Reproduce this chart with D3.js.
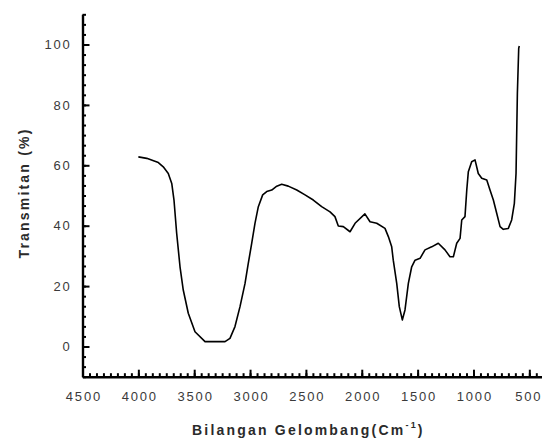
<!DOCTYPE html>
<meta charset="utf-8">
<style>
body { margin: 0; background: #fff; }
.tick text { font: 13px "Liberation Sans", Arial, sans-serif; fill: #3a3a3a; letter-spacing: 1.8px; }
.title { font: bold 14px "Liberation Sans", Arial, sans-serif; fill: #2a2a2a; letter-spacing: 2.2px; }
</style>
<svg width="543" height="441"></svg>
<script src="https://cdn.jsdelivr.net/npm/d3@7/dist/d3.min.js"></script>
<script>
// FTIR spectrum
var wave = [4000, 3925, 3821, 3777, 3732, 3701, 3681, 3657, 3627, 3598, 3553, 3493, 3403, 3224, 3180, 3135,
  3090, 3045, 3016, 2985, 2956, 2926, 2887, 2851, 2806, 2761, 2717, 2658, 2582, 2508, 2434, 2359, 2284,
  2240, 2210, 2165, 2105, 2060, 1972, 1926, 1866, 1792, 1762, 1732, 1718, 1687, 1664, 1637, 1613, 1583,
  1553, 1523, 1478, 1434, 1374, 1315, 1255, 1210, 1180, 1150, 1120, 1105, 1076, 1060, 1046, 1016, 986,
  957, 926, 881, 852, 822, 792, 762, 733, 688, 658, 634, 619, 607, 595, 590];
var trans = [62.8, 62.3, 60.9, 59.5, 57.3, 54.0, 48.5, 37.5, 26.4, 18.7, 11.0, 4.9, 1.6, 1.6, 2.7, 6.6,
  13.2, 20.9, 27.5, 34.2, 40.8, 46.3, 50.2, 51.3, 51.8, 53.1, 53.7, 53.1, 51.8, 50.2, 48.5, 46.3, 44.6,
  43.0, 39.9, 39.7, 38.0, 40.8, 43.9, 41.3, 40.8, 39.1, 36.4, 33.0, 28.6, 20.9, 13.2, 8.8, 12.1, 20.9,
  26.4, 28.6, 29.2, 32.0, 33.0, 34.2, 32.0, 29.7, 29.7, 34.2, 35.8, 41.9, 43.0, 51.8, 57.9, 61.2, 61.8,
  57.3, 55.7, 55.1, 51.8, 48.5, 44.1, 39.7, 38.8, 39.1, 41.9, 47.4, 57.3, 83.8, 98.7, 99.5];
var xTicks = [4500, 4000, 3500, 3000, 2500, 2000, 1500, 1000, 500];
var yTicks = [0, 20, 40, 60, 80, 100];

var svg = d3.select("svg");

var x = d3.scaleLinear().domain([4500, 391]).range([82.5, 541.5]);
var y = d3.scaleLinear().domain([-10, 110]).range([376.7, 14.3]);

var xMinor = d3.range(4500, 390, -62.5);
var yMinor = d3.range(-10, 110.01, 20 / 6);

// minor ticks
svg.append("g")
    .attr("transform", "translate(0,376.7)")
    .call(d3.axisBottom(x).tickValues(xMinor).tickSize(-3.5).tickSizeOuter(0).tickFormat(""))
    .call(function(g) { g.selectAll("line").attr("stroke-width", 2); g.select(".domain").remove(); });
svg.append("g")
    .attr("transform", "translate(82.5,0)")
    .call(d3.axisLeft(y).tickValues(yMinor).tickSize(-3.5).tickSizeOuter(0).tickFormat(""))
    .call(function(g) { g.selectAll("line").attr("stroke-width", 2); g.select(".domain").remove(); });

// major ticks + labels
svg.append("g")
    .attr("transform", "translate(0,376.7)")
    .call(d3.axisBottom(x).tickValues(xTicks).tickSize(-7).tickSizeOuter(0).tickPadding(15)
      .tickFormat(d3.format("d")))
    .call(function(g) {
      g.selectAll("line").attr("stroke-width", 2);
      g.select(".domain").attr("stroke-width", 2.4);
      g.selectAll("text").attr("dx", function(d) { return d === 500 ? -1 : 0.9; });
    });
svg.append("g")
    .attr("transform", "translate(82.5,0)")
    .call(d3.axisLeft(y).tickValues(yTicks).tickSize(-7).tickSizeOuter(0).tickPadding(11))
    .call(function(g) {
      g.selectAll("line").attr("stroke-width", 2);
      g.select(".domain").attr("stroke-width", 2.4);
    });

var line = d3.line()
    .x(function(d, i) { return x(wave[i]); })
    .y(function(d, i) { return y(trans[i]); });

svg.append("path")
    .datum(wave)
    .attr("d", line)
    .attr("fill", "none")
    .attr("stroke", "#000")
    .attr("stroke-width", 1.6)
    .attr("stroke-linejoin", "round");

svg.append("text")
    .attr("class", "title")
    .attr("transform", "translate(29,193) rotate(-90)")
    .attr("text-anchor", "middle")
    .text("Transmitan (%)");

var xt = svg.append("text")
    .attr("class", "title")
    .attr("x", 192)
    .attr("y", 435);
xt.append("tspan").text("Bilangan Gelombang(Cm");
xt.append("tspan").attr("dy", -7).attr("font-size", 9).text("-1");
xt.append("tspan").attr("dy", 7).text(")");
</script>
